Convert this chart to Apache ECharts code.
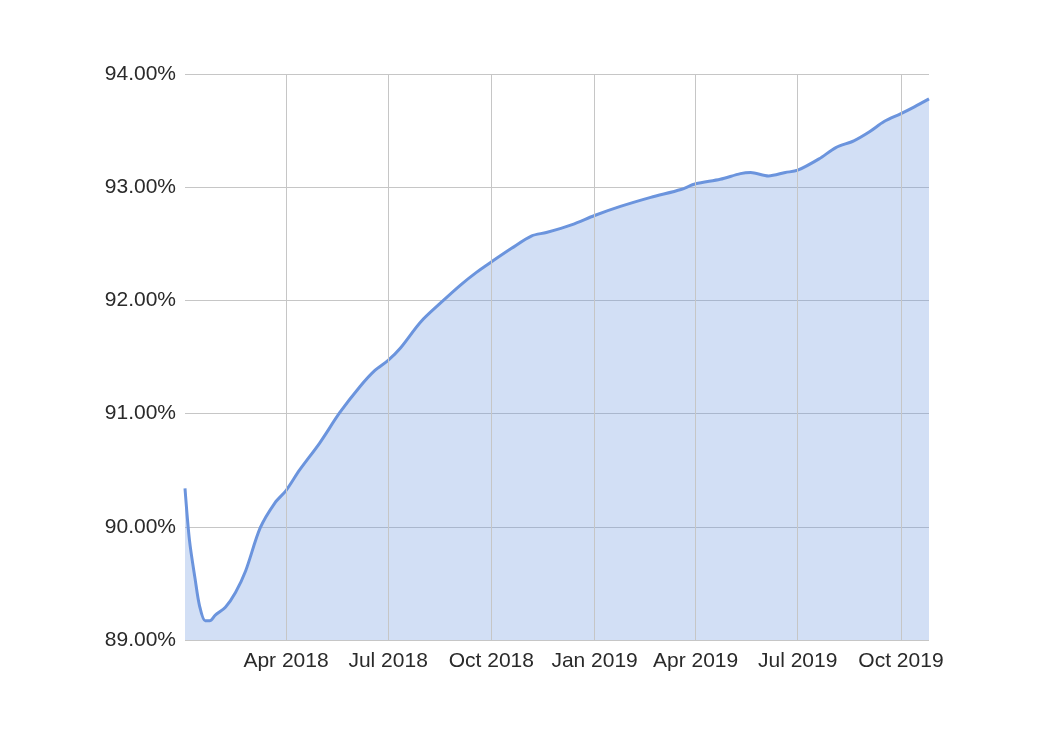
<!DOCTYPE html>
<html>
	<head>
		<meta charset="utf-8">
		<title>ECharts</title>
		<style>
		html,body { height:100%; width:100%; margin:0; padding:0; background:#fff; }
		</style>
		<script src="https://cdn.jsdelivr.net/npm/echarts@6/dist/echarts.min.js"></script>
	</head>
	<body>
		<div id="main" style="height:736px;width:1044px;"></div>
		<script type="text/javascript">
			// dates and values
			var dates = ['2018-01-01','2018-01-05','2018-01-10','2018-01-14','2018-01-19','2018-01-23','2018-01-28',
				'2018-02-06','2018-02-15','2018-02-24','2018-03-09','2018-03-22','2018-04-01','2018-04-13','2018-05-01',
				'2018-05-19','2018-06-06','2018-06-19','2018-07-01','2018-07-12','2018-07-30','2018-08-17','2018-09-04',
				'2018-09-18','2018-10-01','2018-10-19','2018-11-06','2018-11-19','2018-12-12','2019-01-01','2019-01-24',
				'2019-02-20','2019-03-19','2019-04-01','2019-04-23','2019-05-11','2019-05-20','2019-06-05','2019-06-20',
				'2019-07-01','2019-07-20','2019-08-04','2019-08-20','2019-09-03','2019-09-16','2019-10-01','2019-10-13',
				'2019-10-26'];
			var values = [90.34,89.88,89.54,89.30,89.17,89.17,89.22,
				89.29,89.42,89.61,89.99,90.21,90.32,90.50,90.74,
				91.01,91.24,91.38,91.47,91.58,91.81,91.98,92.14,
				92.25,92.34,92.46,92.57,92.60,92.67,92.75,92.83,
				92.91,92.98,93.03,93.07,93.12,93.13,93.10,93.13,
				93.15,93.25,93.35,93.41,93.49,93.58,93.65,93.71,
				93.78];
			var tickDates = ['2018-04-01','2018-07-01','2018-10-01','2019-01-01','2019-04-01','2019-07-01','2019-10-01'];
			var monthNames = ['Jan','Feb','Mar','Apr','May','Jun','Jul','Aug','Sep','Oct','Nov','Dec'];

			function toTime(d) {
				var p = d.split('-');
				return Date.UTC(+p[0], +p[1] - 1, +p[2]);
			}

			var chart = echarts.init(document.getElementById('main'));
			var tickTimes = tickDates.map(toTime);
			var points = dates.map(function (d, i) { return [toTime(d), values[i]]; });

			var option = {
				animation: false,
				backgroundColor: '#fff',
				grid: { left: 185, right: 115, top: 74, bottom: 96 },
				xAxis: {
					type: 'value',
					min: toTime('2018-01-01'),
					max: toTime('2019-10-26'),
					axisLine: { show: false },
					axisTick: { show: false, customValues: tickTimes },
					axisLabel: {
						customValues: tickTimes,
						margin: 11,
						color: '#2a2a2a',
						fontSize: 21,
						fontFamily: 'Liberation Sans, Arial, sans-serif',
						formatter: function (v) {
							var d = new Date(v);
							return monthNames[d.getUTCMonth()] + ' ' + d.getUTCFullYear();
						}
					},
					splitLine: { show: false }
				},
				yAxis: {
					type: 'value',
					min: 89,
					max: 94,
					interval: 1,
					axisLine: { show: false },
					axisTick: { show: false },
					axisLabel: {
						margin: 9,
						color: '#2a2a2a',
						fontSize: 21,
						fontFamily: 'Liberation Sans, Arial, sans-serif',
						formatter: function (v) { return v.toFixed(2) + '%'; }
					},
					splitLine: { lineStyle: { color: '#c6c6c6', width: 1 } }
				},
				series: [{
					// vertical grid lines at the quarter ticks
					type: 'line',
					data: [],
					z: 1,
					markLine: {
						silent: true,
						symbol: 'none',
						label: { show: false },
						lineStyle: { color: '#c6c6c6', width: 1, type: 'solid' },
						data: tickTimes.map(function (t) { return { xAxis: t }; })
					}
				}, {
					type: 'line',
					data: points,
					showSymbol: false,
					smooth: 0.3,
					z: 2,
					lineStyle: { color: '#6b94dd', width: 3 },
					areaStyle: { color: 'rgba(107,148,221,0.3)', opacity: 1 }
				}]
			};
			chart.setOption(option);
		</script>
	</body>
</html>
